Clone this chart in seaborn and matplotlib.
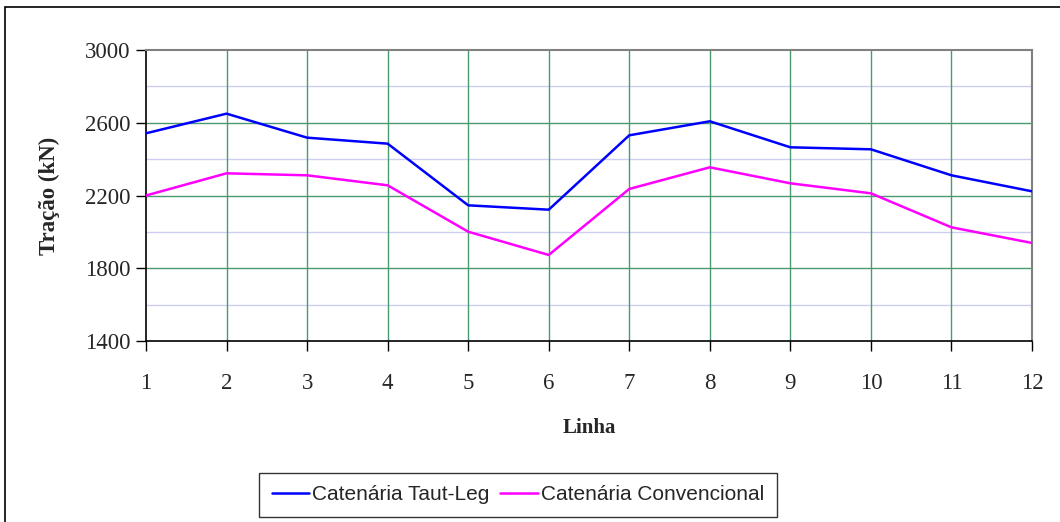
import numpy as np
import pandas as pd
import matplotlib
matplotlib.use("Agg")
import matplotlib.pyplot as plt
from matplotlib.patches import Rectangle
import seaborn as sns

# Line numbers and tension values (kN)
linhas = list(range(1, 13))
taut_leg = [2542, 2650, 2518, 2485, 2146, 2122, 2531, 2608, 2465, 2454, 2311, 2223]
convencional = [2200, 2322, 2311, 2256, 2001, 1873, 2236, 2355, 2267, 2212, 2025, 1939]
series_names = ["Catenária Taut-Leg", "Catenária Convencional"]
y_ticks = [1400, 1800, 2200, 2600, 3000]

df = pd.DataFrame({
    "Linha": linhas * 2,
    "Tracao": taut_leg + convencional,
    "Serie": [series_names[0]] * 12 + [series_names[1]] * 12,
})

sns.set_style("white")
plt.rcParams["font.family"] = ["Liberation Serif", "DejaVu Serif"]

fig = plt.figure(figsize=(10.6, 5.22), dpi=100)
ax = fig.add_axes([146 / 1060, 1 - 341 / 522, (1032 - 146) / 1060, (341 - 50) / 522])

# gridlines: light minor rows, green major rows and columns
for v in np.arange(1600, 3000, 400):
    ax.axhline(v, color="#ccccf4", lw=1.0, zorder=0)
for v in y_ticks[1:-1]:
    ax.axhline(v, color="#4a9a70", lw=1.0, zorder=0)
for x in linhas[1:-1]:
    ax.axvline(x, color="#4a9a70", lw=1.0, zorder=0)

sns.lineplot(data=df, x="Linha", y="Tracao", hue="Serie",
             palette={series_names[0]: "#0000ff", series_names[1]: "#ff00ff"},
             lw=1.8, ax=ax, legend=False, zorder=3)

ax.set_xlim(1, 12)
ax.set_ylim(1400, 3000)
ax.set_xticks(linhas)
ax.set_yticks(y_ticks)
ax.tick_params(axis="both", which="major", direction="out", length=7, width=1,
               color="black", labelsize=16.5, bottom=True, left=True)
ax.tick_params(axis="x", pad=16)
ax.tick_params(axis="y", pad=4)

for side in ["top", "right"]:
    ax.spines[side].set_color("#808080")
    ax.spines[side].set_linewidth(1.5)
for side in ["left", "bottom"]:
    ax.spines[side].set_color("black")
    ax.spines[side].set_linewidth(1.2)
for s in ax.spines.values():
    s.set_visible(True)

ax.set_xlabel("Linha", fontsize=15, fontweight="bold", labelpad=17)
ax.set_ylabel("Tração (kN)", fontsize=16.5, fontweight="bold", labelpad=18)

handles = [plt.Line2D([], [], color="#0000ff", lw=1.8),
           plt.Line2D([], [], color="#ff00ff", lw=1.8)]
leg = fig.legend(handles, series_names, loc="center",
                 bbox_to_anchor=(518 / 1060, 1 - 495 / 522), ncol=2,
                 frameon=True, fancybox=False, edgecolor="black",
                 prop={"family": "Liberation Sans", "size": 15},
                 handlelength=1.8, handletextpad=0.15, columnspacing=0.5,
                 borderpad=0.6, borderaxespad=0.0)
leg.get_frame().set_linewidth(1.0)

# outer chart border
fig.patches.append(Rectangle((5 / 1060, -0.1), 1.2, 1 - 7 / 522 + 0.1,
                             transform=fig.transFigure, fill=False,
                             edgecolor="black", lw=1.2))

fig.savefig("out.png", dpi=100)
